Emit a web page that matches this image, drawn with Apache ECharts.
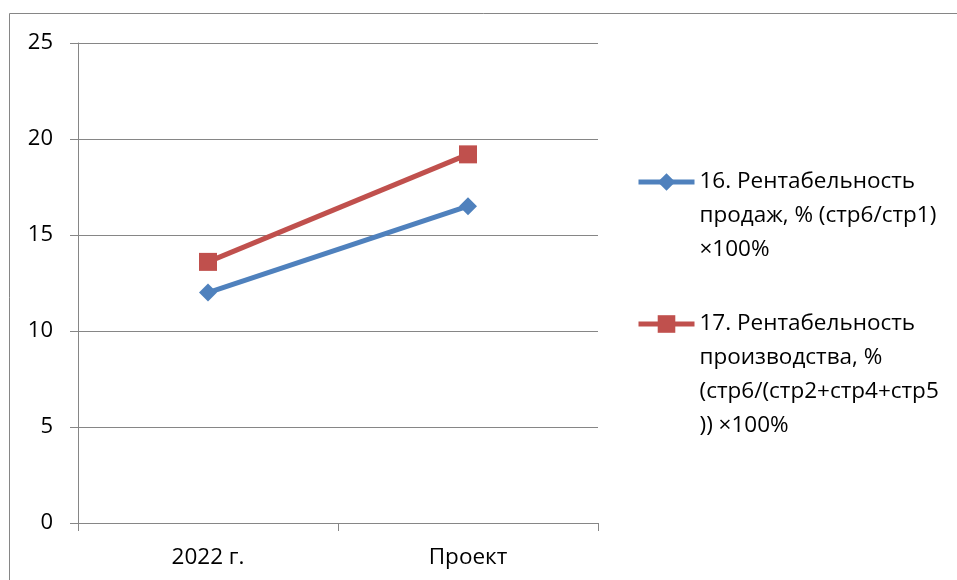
<!DOCTYPE html>
<html>
<head>
<meta charset="utf-8">
<script src="https://cdn.jsdelivr.net/npm/echarts@6/dist/echarts.min.js"></script>
<style>
  html, body { margin: 0; padding: 0; background: #ffffff; }
  #chart { width: 957px; height: 580px; }
</style>
</head>
<body>
<div id="chart"></div>
<script>
// Categories and values
const categories = ['2022 г.', 'Проект'];
const salesProfitability = [12.0, 16.5];
const productionProfitability = [13.6, 19.2];
const seriesNames = [
  '16. Рентабельность продаж, % (стр6/стр1) ×100%',
  '17. Рентабельность производства, % (стр6/(стр2+стр4+стр5)) ×100%'
];
// Legend text split into lines
const legendLines = [
  ['16. Рентабельность', 'продаж, % (стр6/стр1)', '×100%'],
  ['17. Рентабельность', 'производства, %', '(стр6/(стр2+стр4+стр5', ')) ×100%']
];
const yTicks = { min: 0, max: 25, step: 5 };

const FONT = '"Open Sans", "Noto Sans", sans-serif';
const AXIS_GRAY = '#868686';
const BLUE = '#4F81BD';
const RED = '#C0504D';
const LH = 34;

// Pad the label with blank lines above so the icon lines up with the first text row
function legendLabel(lines) {
  const pad = new Array(lines.length - 1).fill('');
  return pad.concat(lines).join('\n');
}

function legendFor(idx, top) {
  return {
    data: [seriesNames[idx]],
    left: 636,
    top: top,
    padding: 0,
    orient: 'vertical',
    itemWidth: 56,
    itemHeight: 22,
    itemGap: 0,
    selectedMode: false,
    lineStyle: { width: 5 },
    formatter: () => legendLabel(legendLines[idx]),
    textStyle: { fontFamily: FONT, fontSize: 22.5, color: '#000', lineHeight: LH }
  };
}

const chart = echarts.init(document.getElementById('chart'), null, { renderer: 'canvas' });
chart.setOption({
  animation: false,
  backgroundColor: '#ffffff',
  graphic: [{
    type: 'rect',
    shape: { x: 9.5, y: 13.5, width: 1000, height: 1000 },
    style: { fill: 'none', stroke: AXIS_GRAY, lineWidth: 1 },
    silent: true
  }],
  grid: { left: 78, top: 43, right: 359, bottom: 57, containLabel: false },
  legend: [
    legendFor(0, 182 - 2.5 * LH),
    legendFor(1, 324 - 3.5 * LH)
  ],
  xAxis: {
    type: 'category',
    data: categories,
    boundaryGap: true,
    axisLine: { show: true, lineStyle: { color: AXIS_GRAY, width: 1 } },
    axisTick: { show: true, length: 8, lineStyle: { color: AXIS_GRAY } },
    axisLabel: { fontFamily: FONT, fontSize: 22.5, color: '#000', margin: 23 },
    splitLine: { show: false }
  },
  yAxis: {
    type: 'value',
    min: yTicks.min,
    max: yTicks.max,
    interval: yTicks.step,
    axisLine: { show: true, lineStyle: { color: AXIS_GRAY, width: 1 } },
    axisTick: { show: true, length: 8, lineStyle: { color: AXIS_GRAY } },
    axisLabel: { fontFamily: FONT, fontSize: 22, color: '#000', margin: 25 },
    splitLine: { show: true, lineStyle: { color: AXIS_GRAY, width: 1 } }
  },
  series: [
    {
      name: seriesNames[0],
      type: 'line',
      data: salesProfitability,
      symbol: 'diamond',
      symbolSize: 18,
      showAllSymbol: true,
      lineStyle: { color: BLUE, width: 5 },
      itemStyle: { color: BLUE },
      z: 3
    },
    {
      name: seriesNames[1],
      type: 'line',
      data: productionProfitability,
      symbol: 'rect',
      symbolSize: 18,
      showAllSymbol: true,
      lineStyle: { color: RED, width: 5 },
      itemStyle: { color: RED },
      z: 4
    }
  ]
});
</script>
</body>
</html>
